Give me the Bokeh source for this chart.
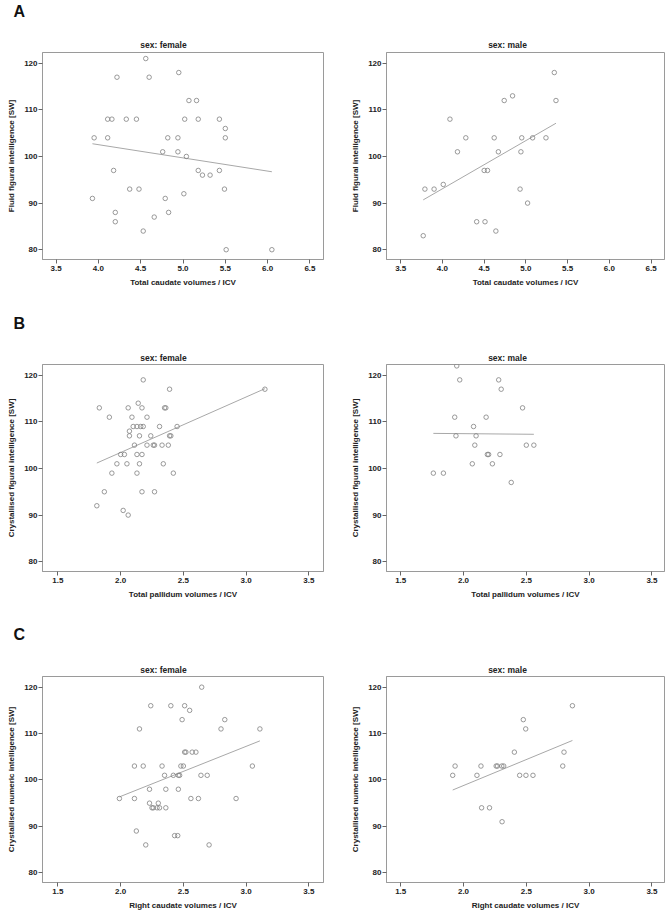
import numpy as np
from bokeh.plotting import figure
from bokeh.layouts import column, row
from bokeh.models import Range1d, FixedTicker, Label, NumeralTickFormatter
from bokeh.embed import file_html
from bokeh.resources import INLINE

# ---------------- data ----------------
# A: Fluid figural intelligence vs total caudate volumes / ICV
caud_f = [4.56, 4.22, 4.60, 4.95, 5.07, 5.16, 4.11, 4.16, 4.33, 4.45, 5.02, 5.18, 5.43, 5.50,
          3.95, 4.11, 4.82, 4.94, 5.50, 4.76, 4.94, 5.04, 4.18, 5.18, 5.23, 5.32, 5.43, 4.37,
          4.48, 5.49, 3.93, 4.79, 5.01, 4.20, 4.83, 4.20, 4.66, 4.53, 5.51, 6.05]
fluid_f = [121, 117, 117, 118, 112, 112, 108, 108, 108, 108, 108, 108, 108, 106,
           104, 104, 104, 104, 104, 101, 101, 100, 97, 97, 96, 96, 97, 93,
           93, 93, 91, 91, 92, 88, 88, 86, 87, 84, 80, 80]
caud_m = [5.34, 5.36, 4.74, 4.84, 4.09, 4.28, 4.62, 4.95, 5.08, 5.24, 4.18, 4.67, 4.94, 4.50,
          4.54, 3.79, 3.90, 4.01, 4.93, 5.02, 4.41, 4.51, 4.64, 3.77]
fluid_m = [118, 112, 112, 113, 108, 104, 104, 104, 104, 104, 101, 101, 101, 97,
           97, 93, 93, 94, 93, 90, 86, 86, 84, 83]

# B: Crystallised figural intelligence vs total pallidum volumes / ICV
pall_f = [2.18, 2.39, 3.15, 1.83, 2.06, 2.17, 2.35, 2.36, 2.14, 1.91, 2.09, 2.21, 2.07, 2.10,
          2.13, 2.16, 2.18, 2.31, 2.45, 2.07, 2.15, 2.24, 2.39, 2.40, 2.11, 2.21, 2.26, 2.27,
          2.33, 2.38, 2.00, 2.03, 2.13, 2.17, 1.97, 2.05, 2.15, 2.34, 1.93, 2.13, 2.42, 1.87,
          2.17, 2.27, 1.81, 2.02, 2.06]
cfig_f = [119, 117, 117, 113, 113, 113, 113, 113, 114, 111, 111, 111, 108, 109,
          109, 109, 109, 109, 109, 107, 107, 107, 107, 107, 105, 105, 105, 105,
          105, 105, 103, 103, 103, 103, 101, 101, 101, 101, 99, 99, 99, 95,
          95, 95, 92, 91, 90]
pall_m = [1.946, 1.97, 2.28, 2.30, 2.47, 1.93, 2.18, 2.08, 1.94, 2.10, 2.09, 2.50, 2.56, 2.19,
          2.20, 2.29, 2.07, 2.23, 1.76, 1.84, 2.38]
cfig_m = [122, 119, 119, 117, 113, 111, 111, 109, 107, 107, 105, 105, 105, 103,
          103, 103, 101, 101, 99, 99, 97]

# C: Crystallised numeric intelligence vs right caudate volumes / ICV
rcaud_f = [2.646, 2.24, 2.40, 2.51, 2.55, 2.49, 2.83, 2.15, 2.80, 3.11, 2.51, 2.52, 2.57, 2.60,
           2.11, 2.18, 2.33, 2.48, 2.50, 3.05, 2.35, 2.42, 2.46, 2.47, 2.64, 2.69, 2.23, 2.36,
           2.46, 1.99, 2.11, 2.56, 2.62, 2.92, 2.23, 2.30, 2.25, 2.26, 2.29, 2.31, 2.36, 2.125,
           2.43, 2.455, 2.20, 2.705]
cnum_f = [120, 116, 116, 116, 115, 113, 113, 111, 111, 111, 106, 106, 106, 106,
          103, 103, 103, 103, 103, 103, 101, 101, 101, 101, 101, 101, 98, 98,
          98, 96, 96, 96, 96, 96, 95, 95, 94, 94, 94, 94, 94, 89,
          88, 88, 86, 86]
rcaud_m = [2.867, 2.476, 2.495, 2.405, 2.80, 1.933, 2.139, 2.26, 2.27, 2.305, 2.32, 2.79, 1.914,
           2.107, 2.447, 2.497, 2.553, 2.144, 2.207, 2.307]
cnum_m = [116, 113, 111, 106, 106, 103, 103, 103, 103, 103, 103, 103, 101,
          101, 101, 101, 101, 94, 94, 91]

caud_ticks = [3.5, 4.0, 4.5, 5.0, 5.5, 6.0, 6.5]
vol_ticks = [1.5, 2.0, 2.5, 3.0, 3.5]
iq_ticks = [80, 90, 100, 110, 120]
sexes = ["sex: female", "sex: male"]
letters = ["A", "B", "C"]

FONT = "Liberation Sans"
GREY = "#9a9a9a"
PT = "#808080"
Y0, Y1 = 77.9, 122.3
W = 672


def header(h, letter, letter_mid, title_mid):
    """Strip above a row of panels holding the panel letter and the two facet titles."""
    p = figure(width=W, height=h, output_backend="svg", toolbar_location=None, title=None,
               x_range=Range1d(0, W), y_range=Range1d(h, 0),
               x_axis_type=None, y_axis_type=None,
               min_border_left=0, min_border_right=0, min_border_top=0, min_border_bottom=0)
    p.outline_line_color = None
    p.grid.visible = False
    p.background_fill_color = "white"
    p.border_fill_color = "white"
    p.add_layout(Label(x=13, y=letter_mid, text=letter, text_font=FONT, text_font_size="16px",
                       text_font_style="bold", text_align="left", text_baseline="middle",
                       text_color="#111111"))
    for cx, s in zip((163, 507), sexes):
        p.add_layout(Label(x=cx, y=title_mid, text=s, text_font=FONT, text_font_size="8.5px",
                           text_font_style="bold", text_align="center", text_baseline="middle",
                           text_color="#222222"))
    return p


def panel(x, y, xr, xticks, xlabel, ylabel, w, h, bl, br, bt, bb):
    p = figure(width=w, height=h, output_backend="svg", toolbar_location=None, title=None,
               x_range=Range1d(*xr), y_range=Range1d(Y0, Y1),
               min_border_left=bl, min_border_right=br, min_border_top=bt, min_border_bottom=bb)
    p.background_fill_color = "white"
    p.border_fill_color = "white"
    p.outline_line_color = GREY
    p.outline_line_width = 1
    p.grid.visible = False
    for ax in (p.xaxis[0], p.yaxis[0]):
        ax.axis_line_color = GREY
        ax.major_tick_line_color = "#666666"
        ax.major_tick_out = 4
        ax.major_tick_in = 0
        ax.minor_tick_line_color = None
        ax.major_label_text_font = FONT
        ax.major_label_text_font_size = "8px"
        ax.major_label_text_font_style = "bold"
        ax.major_label_text_color = "#222222"
        ax.axis_label_text_font = FONT
        ax.axis_label_text_font_size = "8px"
        ax.axis_label_text_font_style = "bold"
        ax.axis_label_text_color = "#222222"
    p.xaxis.ticker = FixedTicker(ticks=xticks)
    p.xaxis.formatter = NumeralTickFormatter(format="0.0")
    p.yaxis.ticker = FixedTicker(ticks=iq_ticks)
    p.xaxis.axis_label = xlabel
    p.yaxis.axis_label = ylabel
    p.xaxis.major_label_standoff = 2
    p.yaxis.major_label_standoff = 1
    p.xaxis.axis_label_standoff = 4
    p.yaxis.axis_label_standoff = 5

    xa = np.array(x, dtype=float)
    ya = np.array(y, dtype=float)
    k, b = np.polyfit(xa, ya, 1)
    lx = np.array([xa.min(), xa.max()])
    p.line(lx, k * lx + b, line_color="#a8a8a8", line_width=1)
    p.scatter(xa, ya, marker="circle", size=4.5, fill_color=None, line_color=PT, line_width=0.8)
    return p


WL, WR = 348, 324
# Row A: header page y 0..49, panels 49..300
hA = header(49, letters[0], 10.5, 44.5)
a1 = panel(caud_f, fluid_f, (3.34, 6.66), caud_ticks, "Total caudate volumes / ICV",
           "Fluid figural intelligence [SW]", WL, 251, 42, 25, 1, 41)
a2 = panel(caud_m, fluid_m, (3.33, 6.66), caud_ticks, "Total caudate volumes / ICV",
           "Fluid figural intelligence [SW]", WR, 251, 37, 8, 3, 41)
# Row B: header 300..362, panels 362..610
hB = header(62, letters[1], 22.5, 57.5)
b1 = panel(pall_f, cfig_f, (1.377, 3.617), vol_ticks, "Total pallidum volumes / ICV",
           "Crystallised figural intelligence [SW]", WL, 248, 42, 25, 1, 38)
b2 = panel(pall_m, cfig_m, (1.387, 3.60), vol_ticks, "Total pallidum volumes / ICV",
           "Crystallised figural intelligence [SW]", WR, 248, 37, 8, 2, 39)
# Row C: header 610..674, panels 674..920
hC = header(64, letters[2], 23.5, 59.5)
c1 = panel(rcaud_f, cnum_f, (1.377, 3.617), vol_ticks, "Right caudate volumes / ICV",
           "Crystallised numeric intelligence [SW]", WL, 246, 42, 25, 1, 38)
c2 = panel(rcaud_m, cnum_m, (1.387, 3.60), vol_ticks, "Right caudate volumes / ICV",
           "Crystallised numeric intelligence [SW]", WR, 246, 37, 8, 2, 37)

layout = column(hA, row(a1, a2), hB, row(b1, b2), hC, row(c1, c2))
open("out.html", "w").write(file_html(layout, INLINE))
